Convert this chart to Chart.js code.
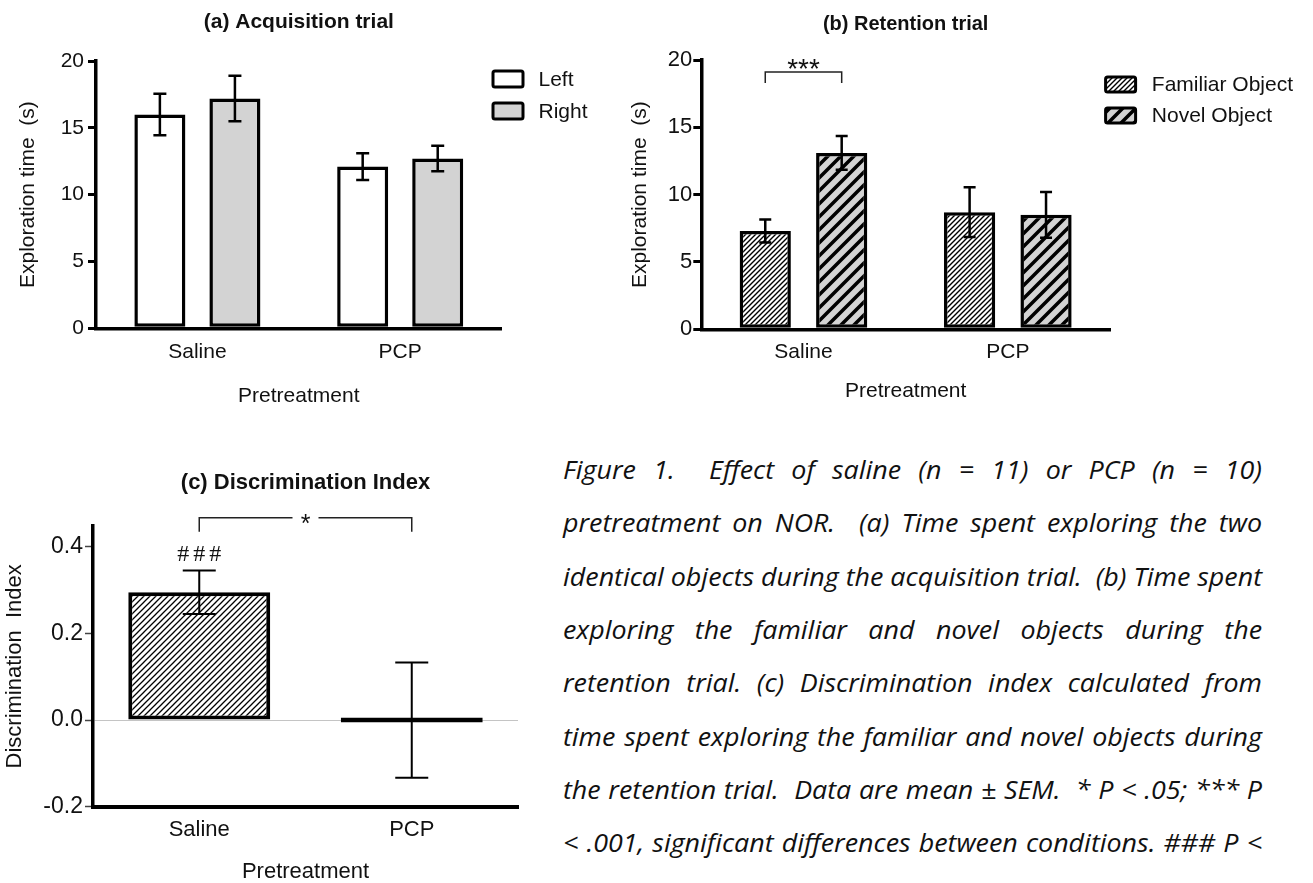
<!DOCTYPE html>
<html>
<head>
<meta charset="utf-8">
<script src="https://cdn.jsdelivr.net/npm/chart.js@4.4.1/dist/chart.umd.min.js"></script>
<style>
  body { margin: 0; background: #fff; width: 1313px; height: 883px; overflow: hidden; position: relative; }
  .panel { position: absolute; }
  #caption { position: absolute; left: 563px; top: 443px; font: italic 26px 'Open Sans'; color: #111; transform-origin: left top; }
  #caption div { height: 53.33px; line-height: 53.33px; white-space: pre; }
</style>
</head>
<body>
<div class="panel" style="left:0;top:0"><canvas id="chartA" width="640" height="420"></canvas></div>
<div class="panel" style="left:620px;top:0"><canvas id="chartB" width="693" height="420"></canvas></div>
<div class="panel" style="left:0;top:440px"><canvas id="chartC" width="540" height="443"></canvas></div>
<div id="caption"></div>
<script>
// ---- data ----
const groups = ['Saline', 'PCP'];

const acqLabels = ['Left', 'Right'];
const acqLeft = [16.0, 12.1];
const acqRight = [17.2, 12.7];
const acqLeftSem = [1.55, 1.0];
const acqRightSem = [1.7, 0.95];

const retLabels = ['Familiar Object', 'Novel Object'];
const retFamiliar = [7.3, 8.7];
const retNovel = [13.1, 8.5];
const retFamiliarSem = [0.85, 1.85];
const retNovelSem = [1.25, 1.7];

const diValues = [0.295, 0.0];
const diSem = [0.05, 0.133];

const timeTicks = [0, 5, 10, 15, 20];
const diTicks = [-0.2, 0.0, 0.2, 0.4];

const captionLines = [
    'Figure 1.  Effect of saline (n = 11) or PCP (n = 10)',
    'pretreatment on NOR.  (a) Time spent exploring the two',
    'identical objects during the acquisition trial.  (b) Time spent',
    'exploring the familiar and novel objects during the',
    'retention trial. (c) Discrimination index calculated from',
    'time spent exploring the familiar and novel objects during',
    'the retention trial.  Data are mean \u00b1 SEM.  * P < .05; *** P',
    '< .001, significant differences between conditions. ### P <'
];

const FONT = "'Liberation Sans', Arial, sans-serif";
const INK = '#111';

// hatch fill: diagonal lines going up to the right
function hatch(size, lineW, bg) {
    const c = document.createElement('canvas');
    c.width = c.height = size;
    const g = c.getContext('2d');
    g.fillStyle = bg;
    g.fillRect(0, 0, size, size);
    g.strokeStyle = '#000';
    g.lineWidth = lineW;
    g.beginPath();
    g.moveTo(0, size); g.lineTo(size, 0);
    g.moveTo(-size, size); g.lineTo(size, -size);
    g.moveTo(0, 2 * size); g.lineTo(2 * size, 0);
    g.stroke();
    return g.createPattern(c, 'repeat');
}

// error bars (mean +/- SEM) from dataset.sem
function errorBars(width, cap) {
    return {
        id: 'errorBars',
        afterDatasetsDraw(chart) {
            const ctx = chart.ctx, y = chart.scales.y;
            chart.data.datasets.forEach((ds, i) => {
                if (!ds.sem) return;
                chart.getDatasetMeta(i).data.forEach((bar, j) => {
                    const top = y.getPixelForValue(ds.data[j] + ds.sem[j]);
                    const bot = y.getPixelForValue(ds.data[j] - ds.sem[j]);
                    ctx.save();
                    ctx.strokeStyle = '#000';
                    ctx.lineWidth = width;
                    ctx.beginPath();
                    ctx.moveTo(bar.x, top); ctx.lineTo(bar.x, bot);
                    ctx.moveTo(bar.x - cap / 2, top); ctx.lineTo(bar.x + cap / 2, top);
                    ctx.moveTo(bar.x - cap / 2, bot); ctx.lineTo(bar.x + cap / 2, bot);
                    ctx.stroke();
                    ctx.restore();
                });
            });
        }
    };
}

// legend with outlined swatches
function boxLegend(o) {
    return {
        id: 'boxLegend',
        afterDraw(chart) {
            const ctx = chart.ctx;
            chart.data.datasets.forEach((ds, i) => {
                const y = o.y + i * o.row;
                ctx.save();
                ctx.fillStyle = ds.backgroundColor;
                ctx.strokeStyle = '#000';
                ctx.lineWidth = o.border;
                ctx.beginPath();
                ctx.roundRect(o.x, y, o.w, o.h, 2);
                ctx.fill();
                ctx.stroke();
                ctx.fillStyle = INK;
                ctx.font = o.size + 'px ' + FONT;
                ctx.textBaseline = 'middle';
                ctx.fillText(ds.label, o.x + o.w + o.gap, y + o.h / 2 + 1);
                ctx.restore();
            });
        }
    };
}

// significance bracket between two bars
function sigBracket(s) {
    return {
        id: 'sigBracket',
        afterDatasetsDraw(chart) {
            const ctx = chart.ctx;
            const a = chart.getDatasetMeta(s.from[0]).data[s.from[1]];
            const b = chart.getDatasetMeta(s.to[0]).data[s.to[1]];
            const ly = chart.scales.y.getPixelForValue(s.level);
            const mid = (a.x + b.x) / 2;
            ctx.save();
            ctx.strokeStyle = '#222';
            ctx.lineWidth = 1.5;
            ctx.beginPath();
            ctx.moveTo(a.x, ly + s.leg); ctx.lineTo(a.x, ly);
            if (s.gap) {
                ctx.lineTo(mid - s.gap / 2, ly);
                ctx.moveTo(mid + s.gap / 2, ly);
            }
            ctx.lineTo(b.x, ly); ctx.lineTo(b.x, ly + s.leg);
            ctx.stroke();
            ctx.fillStyle = INK;
            ctx.font = s.size + 'px ' + FONT;
            ctx.textAlign = 'center';
            ctx.textBaseline = 'alphabetic';
            ctx.fillText(s.text, mid, ly + s.dy + 0.575 * s.size);
            ctx.restore();
        }
    };
}

// text above a bar's error bar
function markAbove(m) {
    return {
        id: 'markAbove',
        afterDatasetsDraw(chart) {
            const ctx = chart.ctx;
            const ds = chart.data.datasets[m.dataset];
            const bar = chart.getDatasetMeta(m.dataset).data[m.index];
            const top = chart.scales.y.getPixelForValue(ds.data[m.index] + ds.sem[m.index]);
            ctx.save();
            ctx.fillStyle = INK;
            ctx.font = m.font;
            ctx.letterSpacing = m.spacing + 'px';
            ctx.textAlign = 'center';
            ctx.textBaseline = 'middle';
            ctx.fillText(m.text, bar.x + m.spacing / 2, top + m.dy);
            ctx.restore();
        }
    };
}

function font(size, weight) {
    return { family: FONT, size: size, weight: weight || 'normal' };
}

// ---------------- (a) Acquisition trial ----------------
new Chart(document.getElementById('chartA'), {
    type: 'bar',
    data: {
        labels: groups,
        datasets: [
            { label: acqLabels[0], data: acqLeft, sem: acqLeftSem, backgroundColor: '#ffffff' },
            { label: acqLabels[1], data: acqRight, sem: acqRightSem, backgroundColor: '#d3d3d3' }
        ]
    },
    options: {
        responsive: false,
        animation: false,
        layout: { padding: { left: 0, top: 0, right: 138.4, bottom: 0 } },
        datasets: { bar: { borderColor: '#000', borderWidth: 3.5, borderSkipped: false, categoryPercentage: 0.74, barPercentage: 0.68 } },
        plugins: {
            legend: { display: false },
            tooltip: { enabled: false },
            title: { display: true, fullSize: false, text: '(a) Acquisition trial', color: INK, font: font(21, 'bold'), padding: { top: 9.4, bottom: 26.4 } }
        },
        scales: {
            x: {
                grid: { display: false, drawTicks: false },
                border: { color: '#000', width: 3.5 },
                ticks: { color: INK, font: font(21), padding: 11 },
                title: { display: true, text: 'Pretreatment', color: INK, font: font(21), padding: { top: 0, bottom: 11.4 } },
                afterFit: s => { s.height = 91.7; }
            },
            y: {
                min: 0, max: 20,
                afterBuildTicks: s => { s.ticks = timeTicks.map(v => ({ value: v })); },
                grid: { drawOnChartArea: false, drawTicks: true, tickLength: 8, color: '#000', lineWidth: 3 },
                border: { color: '#000', width: 3.5 },
                ticks: { color: INK, font: font(21), padding: 4 },
                title: { display: true, text: 'Exploration time  (s)', color: INK, font: font(21), padding: { top: 15.2, bottom: 0 } },
                afterFit: s => { s.width = 96; }
            }
        }
    },
    plugins: [errorBars(2.5, 13), boxLegend({ x: 493, y: 71, w: 30, h: 16, row: 32, gap: 15.5, border: 3, size: 21 })]
});

// ---------------- (b) Retention trial ----------------
const hatchFine = hatch(5, 1.4, '#ffffff');
const hatchWide = hatch(13, 3.5, '#d3d3d3');

new Chart(document.getElementById('chartB'), {
    type: 'bar',
    data: {
        labels: groups,
        datasets: [
            { label: retLabels[0], data: retFamiliar, sem: retFamiliarSem, backgroundColor: hatchFine },
            { label: retLabels[1], data: retNovel, sem: retNovelSem, backgroundColor: hatchWide }
        ]
    },
    options: {
        responsive: false,
        animation: false,
        layout: { padding: { left: 0, top: 0, right: 203, bottom: 0 } },
        datasets: { bar: { borderColor: '#000', borderWidth: 3.5, borderSkipped: false, categoryPercentage: 0.748, barPercentage: 0.67 } },
        plugins: {
            legend: { display: false },
            tooltip: { enabled: false },
            title: { display: true, fullSize: false, text: '(b) Retention trial', color: INK, font: font(20, 'bold'), padding: { top: 12, bottom: 24 } }
        },
        scales: {
            x: {
                grid: { display: false, drawTicks: false },
                border: { color: '#000', width: 3.5 },
                ticks: { color: INK, font: font(21), padding: 10 },
                title: { display: true, text: 'Pretreatment', color: INK, font: font(21), padding: { top: 0, bottom: 16.4 } },
                afterFit: s => { s.height = 90.7; }
            },
            y: {
                min: 0, max: 20,
                afterBuildTicks: s => { s.ticks = timeTicks.map(v => ({ value: v })); },
                grid: { drawOnChartArea: false, drawTicks: true, tickLength: 8, color: '#000', lineWidth: 3 },
                border: { color: '#000', width: 3.5 },
                ticks: { color: INK, font: font(22), padding: 1 },
                title: { display: true, text: 'Exploration time  (s)', color: INK, font: font(21), padding: { top: 7.4, bottom: 0 } },
                afterFit: s => { s.width = 81.3; }
            }
        }
    },
    plugins: [
        errorBars(2.5, 12),
        boxLegend({ x: 485.6, y: 77, w: 30, h: 15, row: 31, gap: 16.2, border: 3, size: 21 }),
        sigBracket({ from: [0, 0], to: [1, 0], level: 19.1, leg: 11, text: '***', size: 28, dy: -10, gap: 0 })
    ]
});

// ---------------- (c) Discrimination Index ----------------
const hatchDi = hatch(6, 1.3, '#ffffff');

new Chart(document.getElementById('chartC'), {
    type: 'bar',
    data: {
        labels: groups,
        datasets: [
            { label: 'Discrimination Index', data: diValues, sem: diSem, backgroundColor: [hatchDi, '#000'] }
        ]
    },
    options: {
        responsive: false,
        animation: false,
        layout: { padding: { left: 0, top: 0, right: 22, bottom: 0 } },
        datasets: { bar: { borderColor: '#000', borderWidth: 4, borderSkipped: false, minBarLength: 5, categoryPercentage: 1, barPercentage: 0.668 } },
        plugins: {
            legend: { display: false },
            tooltip: { enabled: false },
            title: { display: true, fullSize: false, text: '(c) Discrimination Index', color: INK, font: font(22, 'bold'), padding: { top: 29.8, bottom: 29.8 } }
        },
        scales: {
            x: {
                grid: { display: false, drawTicks: false },
                border: { color: '#000', width: 4 },
                ticks: { color: INK, font: font(22), padding: 10 },
                title: { display: true, text: 'Pretreatment', color: INK, font: { family: FONT, size: 22, lineHeight: 1 }, padding: { top: 0, bottom: 0 } },
                afterFit: s => { s.height = 76.3; }
            },
            y: {
                min: -0.2, max: 0.448,
                afterBuildTicks: s => { s.ticks = diTicks.map(v => ({ value: v })); },
                grid: {
                    drawOnChartArea: true, drawTicks: true, tickLength: 8, lineWidth: 1, tickWidth: 1.5, tickColor: '#444',
                    color: c => (c.tick && Math.abs(c.tick.value) < 1e-9) ? '#c4c4c4' : 'rgba(0,0,0,0)'
                },
                border: { color: '#000', width: 3.5 },
                ticks: { color: INK, font: font(23), padding: 2, callback: v => v.toFixed(1) },
                title: { display: true, text: 'Discrimination  Index', color: INK, font: font(22), padding: { top: 1.8, bottom: 0 } },
                afterFit: s => { s.width = 93; }
            }
        }
    },
    plugins: [
        errorBars(2, 33),
        sigBracket({ from: [0, 0], to: [0, 1], level: 0.467, leg: 14, text: '*', size: 25, dy: 0, gap: 26 }),
        markAbove({ dataset: 0, index: 0, text: '###', font: "24px 'Liberation Serif', serif", spacing: 4, dy: -16 })
    ]
});

// ---------------- caption, justified line by line ----------------
const CAPTION_WIDTH = 699;
const cap = document.getElementById('caption');
captionLines.forEach(t => {
    const d = document.createElement('div');
    const s = document.createElement('span');
    s.textContent = t;
    d.appendChild(s);
    cap.appendChild(d);
});
const spans = Array.from(cap.querySelectorAll('span'));
const widths = spans.map(s => s.getBoundingClientRect().width);
const maxW = Math.max(...widths);
cap.style.transform = 'scaleX(' + (CAPTION_WIDTH / maxW) + ')';
spans.forEach((s, i) => {
    const n = (captionLines[i].match(/ /g) || []).length;
    s.style.wordSpacing = ((maxW - widths[i]) / n) + 'px';
});
</script>
</body>
</html>
